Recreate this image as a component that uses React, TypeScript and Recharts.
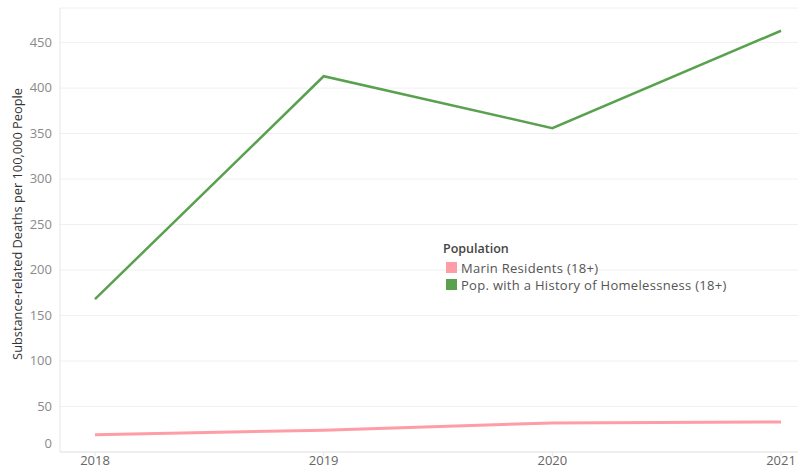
import { LineChart, Line, XAxis, YAxis, CartesianGrid, Label } from "recharts"

const years = ["2018", "2019", "2020", "2021"]
const marin = [19, 24, 32, 33]
const homeless = [168, 413, 356, 463]
const yTicks = [0, 50, 100, 150, 200, 250, 300, 350, 400, 450]

const data = years.map((year, i) => ({ year, marin: marin[i], homeless: homeless[i] }))

const FONT = "'Open Sans', 'Noto Sans', sans-serif"

const legendItems = [
  { label: "Marin Residents (18+)", color: "#ff9da7" },
  { label: "Pop. with a History of Homelessness (18+)", color: "#59a14f" },
]

function YTick(props: any) {
  const { x, y, payload } = props
  const shift = payload.value === 0 ? -8 : 0
  return (
    <text x={x} y={y + shift} dy={4} textAnchor="end" fill="#8a8a8a" fontSize={13} fontFamily={FONT}>
      {payload.value}
    </text>
  )
}

function PopLegend() {
  return (
    <div style={{ position: "absolute", left: 443, top: 240, fontFamily: FONT, fontSize: 13, color: "#555" }}>
      <div style={{ fontWeight: 600, color: "#444", marginBottom: 2, fontSize: 12.5 }}>Population</div>
      {legendItems.map((it) => (
        <div key={it.label} style={{ display: "flex", alignItems: "center", height: 17 }}>
          <span style={{ width: 11, height: 11, background: it.color, marginRight: 4, marginLeft: 3 }} />
          <span style={{ letterSpacing: 0.3 }}>{it.label}</span>
        </div>
      ))}
    </div>
  )
}

export default function App() {
  return (
    <div style={{ position: "absolute", left: 0, top: 0, width: 798, height: 472, background: "#fff" }}>
      <LineChart width={798} height={472} data={data} margin={{ top: 8, right: 0, left: 0, bottom: 0 }}>
        <CartesianGrid vertical={false} stroke="#f0f0f0" />
        <XAxis
          dataKey="year"
          padding={{ left: 35, right: 17 }}
          height={20}
          tickSize={4}
          tickLine={{ stroke: "#e6e6e6" }}
          axisLine={{ stroke: "#e6e6e6" }}
          tick={{ fill: "#666", fontSize: 13, fontFamily: FONT }}
          tickMargin={0}
          interval={0}
        />
        <YAxis
          width={60}
          domain={[0, 488]}
          ticks={yTicks}
          tickLine={false}
          axisLine={{ stroke: "#e6e6e6" }}
          tick={<YTick />}
        >
          <Label
            value="Substance-related Deaths per 100,000 People"
            angle={-90}
            position="insideLeft"
            offset={17}
            dy={-6}
            style={{ textAnchor: "middle", fill: "#333", fontSize: 12.8, fontFamily: FONT }}
          />
        </YAxis>
        <Line
          type="linear"
          dataKey="marin"
          stroke="#ff9da7"
          strokeWidth={3}
          dot={false}
          isAnimationActive={false}
        />
        <Line
          type="linear"
          dataKey="homeless"
          stroke="#59a14f"
          strokeWidth={2.5}
          dot={false}
          isAnimationActive={false}
        />
      </LineChart>
      <PopLegend />
    </div>
  )
}
